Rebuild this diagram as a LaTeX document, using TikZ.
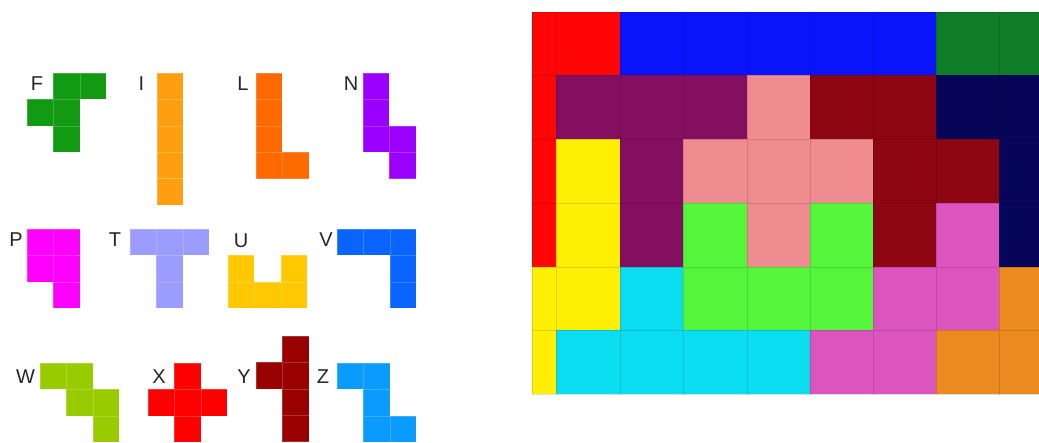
\documentclass[tikz,border=0pt]{standalone}
\usepackage{fontspec}
\setmainfont{Liberation Sans}
% left pieces
\definecolor{cF}{HTML}{129A12}
\definecolor{cI}{HTML}{FF9E0E}
\definecolor{cL}{HTML}{FF6A00}
\definecolor{cN}{HTML}{9B00FF}
\definecolor{cP}{HTML}{FF00FF}
\definecolor{cT}{HTML}{9C9CFF}
\definecolor{cU}{HTML}{FFC800}
\definecolor{cV}{HTML}{0A64FF}
\definecolor{cW}{HTML}{99CC00}
\definecolor{cX}{HTML}{FF0000}
\definecolor{cY}{HTML}{990000}
\definecolor{cZ}{HTML}{0A9BFF}
\definecolor{labelgray}{HTML}{262626}
% right board
\definecolor{bR}{HTML}{FF0505}
\definecolor{bB}{HTML}{0A14FA}
\definecolor{bG}{HTML}{0F7D28}
\definecolor{bPu}{HTML}{840E60}
\definecolor{bPk}{HTML}{EE8C8F}
\definecolor{bDr}{HTML}{8E0612}
\definecolor{bNv}{HTML}{06055A}
\definecolor{bYe}{HTML}{FFEF05}
\definecolor{bGr}{HTML}{55F53C}
\definecolor{bCy}{HTML}{0BDDF0}
\definecolor{bOr}{HTML}{DC55BE}
\definecolor{bOg}{HTML}{EB8A1E}
\tikzset{
  pcell/.style={fill=#1, draw=white, draw opacity=0.2, line width=0.5pt},
  bcell/.style={fill=#1, draw=black, draw opacity=0.13, line width=0.5pt},
  plabel/.style={anchor=base, text=labelgray, font=\fontsize{20}{20}\selectfont, inner sep=0pt},
}
\newcommand{\piece}[4]{% x0, y0, colour, list of col/row
  \foreach \c/\r in {#4} {
    \path[pcell=#3] ({#1+\c*26.4},{#2+\r*26.4}) rectangle ++(26.4,26.4);
  }
}
\begin{document}
\begin{tikzpicture}[x=1pt,y=-1pt]
\useasboundingbox[fill=white] (0,0) rectangle (1039,443);
% ---- left: the twelve pentominoes ----
\piece{27}{73}{cF}{1/0,2/0,0/1,1/1,1/2}
\piece{157}{73}{cI}{0/0,0/1,0/2,0/3,0/4}
\piece{256}{73}{cL}{0/0,0/1,0/2,0/3,1/3}
\piece{363}{73}{cN}{0/0,0/1,0/2,1/2,1/3}
\piece{27}{229}{cP}{0/0,1/0,0/1,1/1,1/2}
\piece{130}{229}{cT}{0/0,1/0,2/0,1/1,1/2}
\piece{228}{229}{cU}{0/1,2/1,0/2,1/2,2/2}
\piece{337}{229}{cV}{0/0,1/0,2/0,2/1,2/2}
\piece{40}{363}{cW}{0/0,1/0,1/1,2/1,2/2}
\piece{148}{363}{cX}{1/0,0/1,1/1,2/1,1/2}
\piece{256}{336}{cY}{1/0,0/1,1/1,1/2,1/3}
\piece{337}{363}{cZ}{0/0,1/0,1/1,1/2,2/2}
\node[plabel] (lF) at (37,91) {F};
\node[plabel] (lI) at (141.5,91) {I};
\node[plabel] (lL) at (243,91) {L};
\node[plabel] (lN) at (351,91) {N};
\node[plabel] (lP) at (16,247) {P};
\node[plabel] (lT) at (115,247) {T};
\node[plabel] (lU) at (241,248) {U};
\node[plabel] (lV) at (326,247) {V};
\node[plabel] (lW) at (25.5,384) {W};
\node[plabel] (lX) at (159,384) {X};
\node[plabel] (lY) at (244,384) {Y};
\node[plabel] (lZ) at (323,384) {Z};
% ---- right: part of a solved board ----
\def\xs{{532,556,620,683,747,810,873,936,999,1039}}
\def\ys{{12,75,139,203,267,330,394}}
\foreach \row [count=\r from 0] in {
  {bR,bR,bB,bB,bB,bB,bB,bG,bG},
  {bR,bPu,bPu,bPu,bPk,bDr,bDr,bNv,bNv},
  {bR,bYe,bPu,bPk,bPk,bPk,bDr,bDr,bNv},
  {bR,bYe,bPu,bGr,bPk,bGr,bDr,bOr,bNv},
  {bYe,bYe,bCy,bGr,bGr,bGr,bOr,bOr,bOg},
  {bYe,bCy,bCy,bCy,bCy,bOr,bOr,bOg,bOg}} {
  \foreach \col [count=\c from 0] in \row {
    \pgfmathsetmacro{\xa}{\xs[\c]}
    \pgfmathsetmacro{\xb}{\xs[\c+1]}
    \pgfmathsetmacro{\ya}{\ys[\r]}
    \pgfmathsetmacro{\yb}{\ys[\r+1]}
    \path[bcell=\col] (\xa,\ya) rectangle (\xb,\yb);
  }
}
\end{tikzpicture}
\end{document}
